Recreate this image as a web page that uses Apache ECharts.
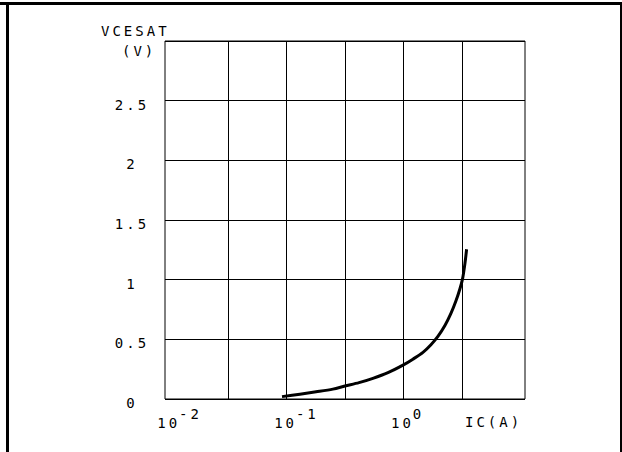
<!DOCTYPE html>
<html><head><meta charset="utf-8">
<script src="https://cdn.jsdelivr.net/npm/echarts@6/dist/echarts.min.js"></script>
<style>
html,body{margin:0;padding:0;background:#fff;width:622px;height:452px;overflow:hidden;}
#chart{position:absolute;left:0;top:0;width:622px;height:452px;}
#chart text{letter-spacing:3px;}
.fr{position:absolute;background:#000;}
</style></head><body>
<div id="chart"></div>
<div class="fr" style="left:0;top:2px;width:622px;height:3px;"></div>
<div class="fr" style="left:6px;top:2px;width:3px;height:450px;"></div>
<div class="fr" style="left:620px;top:2px;width:2px;height:450px;"></div>
<script>
// Collector current IC (A) and saturation voltage VCESAT (V)
const icAmps = [0.0914, 0.130, 0.179, 0.249, 0.316, 0.417, 0.548, 0.737, 0.991, 1.205, 1.469, 1.719, 1.972, 2.264, 2.549, 2.81, 3.04, 3.21, 3.36, 3.47];
const vcesat = [0.020, 0.040, 0.060, 0.083, 0.109, 0.137, 0.173, 0.221, 0.284, 0.334, 0.391, 0.455, 0.525, 0.616, 0.717, 0.821, 0.922, 1.011, 1.137, 1.255];
const yTickLabels = ['0', '0.5', '1', '1.5', '2', '2.5'];
const xDecadeExponents = ['-2', '-1', '0'];
const yTitle = 'VCESAT';
const yUnit = '(V)';
const xTitle = 'IC(A)';

const FONT = '"DejaVu Sans Mono", "Liberation Mono", monospace';
const FS = 14;
const CH = 11.4; // char advance incl. letter spacing

const chart = echarts.init(document.getElementById('chart'), null, {renderer: 'svg'});
const points = icAmps.map((x, i) => [x, vcesat[i]]);
const ts = {fontFamily: FONT, fontSize: FS, fontWeight: 'normal', color: '#000'};

chart.setOption({
  animation: false,
  backgroundColor: '#fff',
  title: [
    {text: yTitle, left: 101, top: 24, padding: 0, textStyle: ts},
    {text: yUnit, left: 122, top: 44, padding: 0, textStyle: ts},
    {text: xTitle, left: 465, top: 415, padding: 0, textStyle: ts}
  ],
  grid: [
    {left: 165, top: 41, width: 360, height: 358, show: true, borderColor: '#000', borderWidth: 1, backgroundColor: 'transparent'},
    {left: 169.7, top: 41, width: 350.6, height: 358, show: false}
  ],
  xAxis: [
    {gridIndex: 0, type: 'log', logBase: 10, min: Math.pow(10, -2.04), max: Math.pow(10, 1.04), show: false},
    {gridIndex: 1, type: 'value', min: -2, max: 1, interval: 0.5,
      axisLine: {show: false}, axisTick: {show: false},
      splitLine: {show: true, showMinLine: false, showMaxLine: false, lineStyle: {color: '#000', width: 1}},
      axisLabel: {
        margin: 13, align: 'center', verticalAlign: 'top', color: '#000',
        formatter: function (v) {
          const idx = [-2, -1, 0].indexOf(v);
          if (idx < 0) return '';
          const e = xDecadeExponents[idx];
          return '{p' + e.length + '|}{b|10}{s' + e.length + '|' + e + '}';
        },
        rich: {
          b: {fontFamily: FONT, fontSize: FS, lineHeight: 18, width: 2 * CH - 2, verticalAlign: 'bottom', color: '#000'},
          s1: {fontFamily: FONT, fontSize: FS, lineHeight: 18, width: CH, padding: [0, 0, 9, 0], verticalAlign: 'bottom', color: '#000'},
          s2: {fontFamily: FONT, fontSize: FS, lineHeight: 18, width: 2 * CH, padding: [0, 0, 9, 0], verticalAlign: 'bottom', color: '#000'},
          p1: {width: CH - 2, lineHeight: 18},
          p2: {width: 2 * CH - 2, lineHeight: 18}
        }
      }
    }
  ],
  yAxis: [
    {gridIndex: 0, type: 'value', min: 0, max: 3, interval: 0.5,
      axisLine: {show: false}, axisTick: {show: false},
      splitLine: {show: true, lineStyle: {color: '#000', width: 1}},
      axisLabel: {
        showMaxLabel: false, margin: 33, align: 'center', verticalAlign: 'top',
        lineHeight: 8,
        fontFamily: FONT, fontSize: FS, color: '#000',
        formatter: function (v, i) { return yTickLabels[i] !== undefined ? yTickLabels[i] : ''; }
      }
    },
    {gridIndex: 1, type: 'value', min: 0, max: 3, show: false}
  ],
  series: [
    {type: 'line', xAxisIndex: 0, yAxisIndex: 0, data: points, smooth: 0.3, showSymbol: false,
      lineStyle: {color: '#000', width: 3, cap: 'butt', join: 'round'}}
  ]
});
</script>
</body></html>
